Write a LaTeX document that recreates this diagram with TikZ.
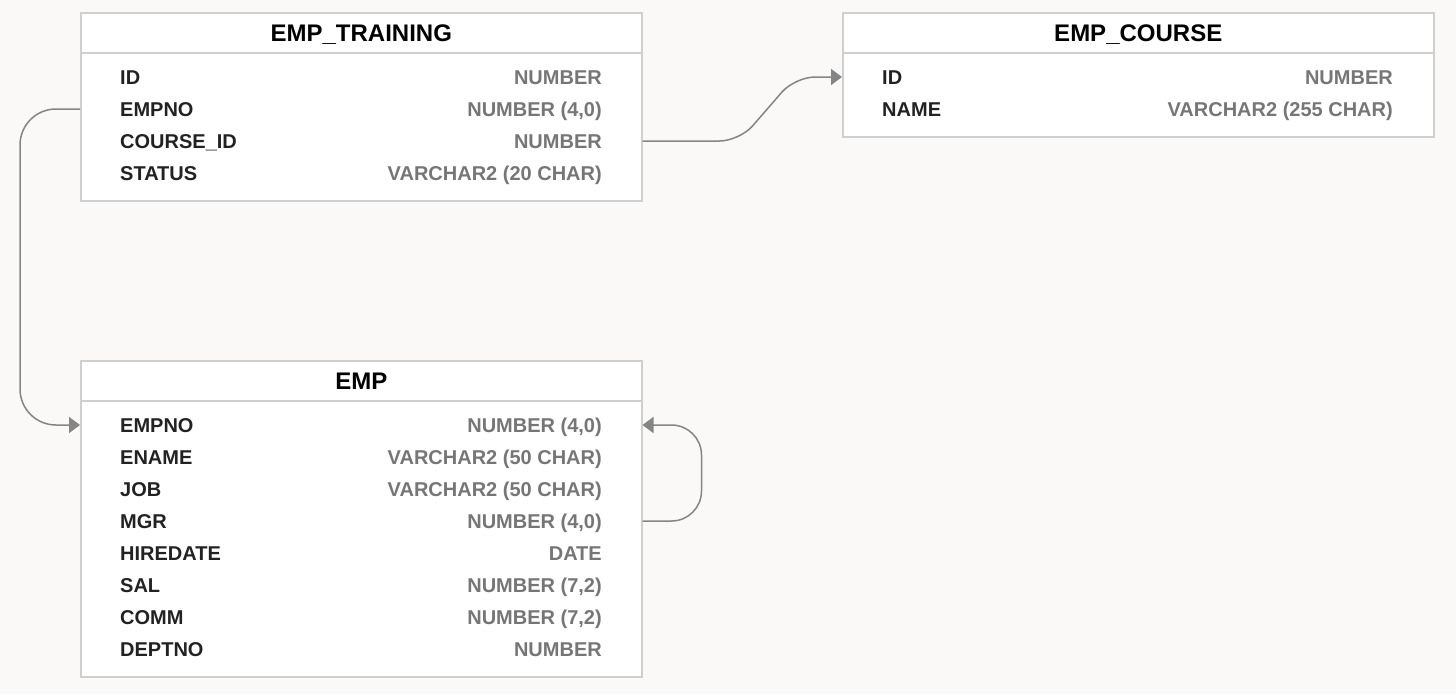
\documentclass[tikz,border=0pt]{standalone}
\usepackage{fontspec}
\setmainfont{Liberation Sans}
\usepackage{tikz}
\usetikzlibrary{arrows.meta,positioning}
\usepackage{xcolor}
\definecolor{PageBg}{HTML}{FAF9F7}
\definecolor{BoxLine}{HTML}{CFCFCF}
\definecolor{ColName}{HTML}{222222}
\definecolor{ColType}{HTML}{767676}
\definecolor{LinkGray}{HTML}{858585}

\begin{document}
\begin{tikzpicture}[x=1pt,y=-1pt,
  tblhead/.style={draw=BoxLine,fill=white,line width=1.5pt,anchor=north west,inner sep=0pt,
                  minimum height=40pt,text height=17pt,text depth=0pt,
                  font=\fontsize{24}{28}\selectfont\bfseries,text=black},
  tblbody/.style={draw=BoxLine,fill=white,line width=1.5pt,anchor=north west,inner sep=0pt},
  colname/.style={anchor=base west,inner sep=0pt,font=\fontsize{20}{24}\selectfont\bfseries,text=ColName},
  coltype/.style={anchor=base east,inner sep=0pt,font=\fontsize{20}{24}\selectfont\bfseries,text=ColType},
  link/.style={draw=LinkGray,line width=1.5pt,-{Triangle[length=11pt,width=16pt]}},
]
\fill[PageBg] (0,0) rectangle (1456,694);
\useasboundingbox (0,0) rectangle (1456,694);
% EMP_TRAINING
\node[tblbody,minimum width=561pt,minimum height=148pt] (trBody) at (80,52) {};
\node[tblhead,minimum width=561pt] (trHead) at (80,12) {EMP\_TRAINING};
\node[colname] (trId) at (120,84) {ID};
\node[coltype] (trIdType) at (602,84) {NUMBER};
\node[colname] (trEmpno) at (120,116) {EMPNO};
\node[coltype] (trEmpnoType) at (602,116) {NUMBER (4,0)};
\node[colname] (trCourse) at (120,148) {COURSE\_ID};
\node[coltype] (trCourseType) at (602,148) {NUMBER};
\node[colname] (trStatus) at (120,180) {STATUS};
\node[coltype] (trStatusType) at (602,180) {VARCHAR2 (20 CHAR)};
% EMP_COURSE
\node[tblbody,minimum width=591pt,minimum height=84pt] (coBody) at (842,52) {};
\node[tblhead,minimum width=591pt] (coHead) at (842,12) {EMP\_COURSE};
\node[colname] (coId) at (882,84) {ID};
\node[coltype] (coIdType) at (1393,84) {NUMBER};
\node[colname] (coName) at (882,116) {NAME};
\node[coltype] (coNameType) at (1393,116) {VARCHAR2 (255 CHAR)};
% EMP
\node[tblbody,minimum width=561pt,minimum height=276pt] (emBody) at (80,400) {};
\node[tblhead,minimum width=561pt] (emHead) at (80,360) {EMP};
\node[colname] (emEmpno) at (120,432) {EMPNO};
\node[coltype] (emEmpnoType) at (602,432) {NUMBER (4,0)};
\node[colname] (emEname) at (120,464) {ENAME};
\node[coltype] (emEnameType) at (602,464) {VARCHAR2 (50 CHAR)};
\node[colname] (emJob) at (120,496) {JOB};
\node[coltype] (emJobType) at (602,496) {VARCHAR2 (50 CHAR)};
\node[colname] (emMgr) at (120,528) {MGR};
\node[coltype] (emMgrType) at (602,528) {NUMBER (4,0)};
\node[colname] (emHire) at (120,560) {HIREDATE};
\node[coltype] (emHireType) at (602,560) {DATE};
\node[colname] (emSal) at (120,592) {SAL};
\node[coltype] (emSalType) at (602,592) {NUMBER (7,2)};
\node[colname] (emComm) at (120,624) {COMM};
\node[coltype] (emCommType) at (602,624) {NUMBER (7,2)};
\node[colname] (emDept) at (120,656) {DEPTNO};
\node[coltype] (emDeptType) at (602,656) {NUMBER};
% links
\draw[link,rounded corners=36pt] ([yshift=7pt]trBody.west |- trEmpno.base) -- ++(-60,0)
  |- ([yshift=7pt]emBody.west |- emEmpno.base);
\draw[link,rounded corners=20pt] ([yshift=7pt]trBody.east |- trCourse.base) -- ++(97,0)
  -- ([xshift=-47pt,yshift=7pt]coBody.west |- coId.base) -- ([yshift=7pt]coBody.west |- coId.base);
\draw[link,rounded corners=30pt] ([yshift=7pt]emBody.east |- emMgr.base) -- ++(59,0)
  |- ([yshift=7pt]emBody.east |- emEmpno.base);
\end{tikzpicture}
\end{document}
